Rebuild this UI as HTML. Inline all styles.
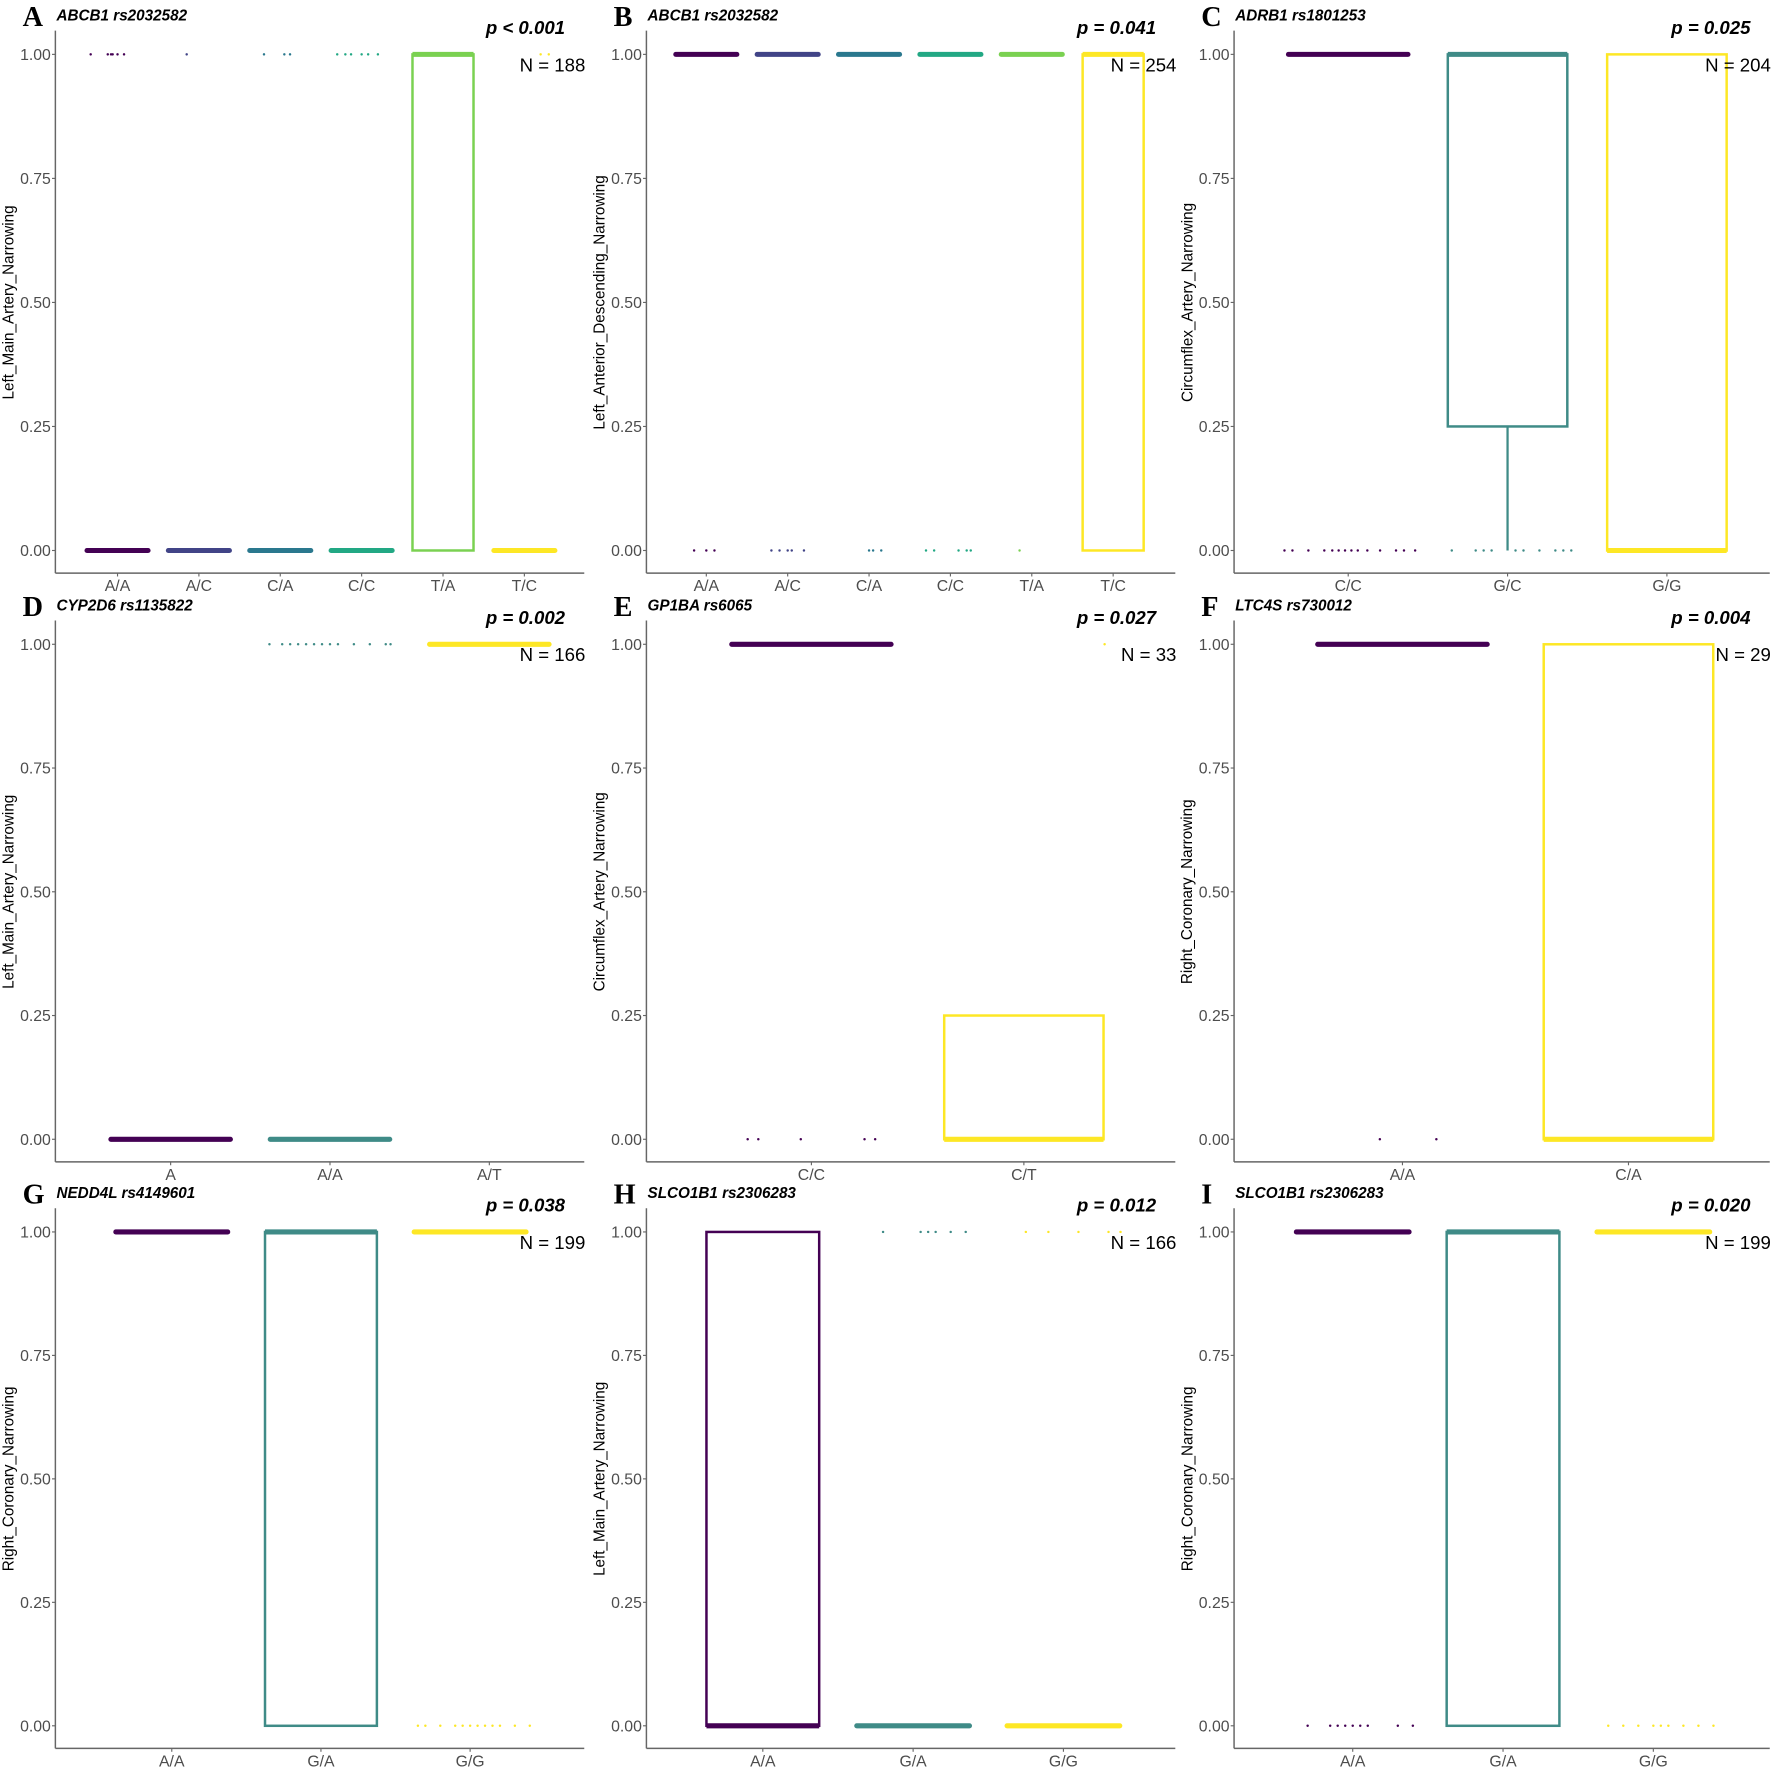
<!DOCTYPE html>
<html><head><meta charset="utf-8"><style>
html,body{margin:0;padding:0;background:#fff}
svg{display:block}
</style></head><body>
<svg id="fig" width="1772" height="1770" viewBox="0 0 1568 1566" xmlns="http://www.w3.org/2000/svg" font-family="Liberation Sans, Arial, sans-serif"></svg>
<script>
// ---- data ----
const panelLetters = ["A","B","C","D","E","F","G","H","I"];
const panelGenes = ["ABCB1 rs2032582","ABCB1 rs2032582","ADRB1 rs1801253","CYP2D6 rs1135822","GP1BA rs6065","LTC4S rs730012","NEDD4L rs4149601","SLCO1B1 rs2306283","SLCO1B1 rs2306283"];
const panelYTitles = ["Left_Main_Artery_Narrowing","Left_Anterior_Descending_Narrowing","Circumflex_Artery_Narrowing","Left_Main_Artery_Narrowing","Circumflex_Artery_Narrowing","Right_Coronary_Narrowing","Right_Coronary_Narrowing","Left_Main_Artery_Narrowing","Right_Coronary_Narrowing"];
const panelP = ["p < 0.001","p = 0.041","p = 0.025","p = 0.002","p = 0.027","p = 0.004","p = 0.038","p = 0.012","p = 0.020"];
const panelN = ["N = 188","N = 254","N = 204","N = 166","N = 33","N = 29","N = 199","N = 166","N = 199"];
const panelCats = [
 ["A/A","A/C","C/A","C/C","T/A","T/C"],
 ["A/A","A/C","C/A","C/C","T/A","T/C"],
 ["C/C","G/C","G/G"],
 ["A","A/A","A/T"],
 ["C/C","C/T"],
 ["A/A","C/A"],
 ["A/A","G/A","G/G"],
 ["A/A","G/A","G/G"],
 ["A/A","G/A","G/G"]
];
// box stats per category: [lowerWhisker, q1, median, q3, upperWhisker]
const panelBoxes = [
 [[0,0,0,0,0],[0,0,0,0,0],[0,0,0,0,0],[0,0,0,0,0],[0,0,1,1,1],[0,0,0,0,0]],
 [[1,1,1,1,1],[1,1,1,1,1],[1,1,1,1,1],[1,1,1,1,1],[1,1,1,1,1],[0,0,1,1,1]],
 [[1,1,1,1,1],[0,0.25,1,1,1],[0,0,0,1,1]],
 [[0,0,0,0,0],[0,0,0,0,0],[1,1,1,1,1]],
 [[1,1,1,1,1],[0,0,0,0.25,0.25]],
 [[1,1,1,1,1],[0,0,0,1,1]],
 [[1,1,1,1,1],[0,0,1,1,1],[1,1,1,1,1]],
 [[0,0,0,1,1],[0,0,0,0,0],[0,0,0,0,0]],
 [[1,1,1,1,1],[0,0,1,1,1],[1,1,1,1,1]]
];
// outlier points: value and jitter offsets (fraction of category spacing)
const panelOutVal = [
 [1,1,1,1,null,1],[0,0,0,0,0,null],[0,0,null],[null,1,null],[0,1],[0,null],[null,null,0],[null,1,1],[0,null,0]
];
const panelOutJit = [
 [[-0.33,-0.12,-0.08,-0.06,0.0,0.08],[-0.15],[-0.2,0.05,0.12],[-0.3,-0.2,-0.13,0.0,0.08,0.2],[],[0.2,0.3]],
 [[-0.15,0.0,0.1],[-0.2,-0.1,0.0,0.05,0.2],[0.0,0.05,0.15],[-0.3,-0.2,0.1,0.2,0.25],[-0.15],[]],
 [[-0.4,-0.35,-0.25,-0.15,-0.1,-0.06,-0.02,0.02,0.06,0.12,0.2,0.3,0.35,0.42],[-0.35,-0.2,-0.15,-0.1,0.05,0.1,0.2,0.3,0.35,0.4],[]],
 [[],[-0.38,-0.3,-0.25,-0.2,-0.15,-0.1,-0.05,0.0,0.05,0.15,0.25,0.35,0.38],[]],
 [[-0.3,-0.25,-0.05,0.25,0.3],[0.38]],
 [[-0.1,0.15],[]],
 [[],[],[-0.35,-0.3,-0.2,-0.1,-0.05,0.0,0.05,0.1,0.15,0.2,0.3,0.4]],
 [[],[-0.2,0.05,0.1,0.15,0.25,0.35],[-0.25,-0.1,0.1,0.3,0.38]],
 [[-0.3,-0.15,-0.1,-0.05,0.0,0.05,0.1,0.3,0.4],[],[-0.3,-0.2,-0.1,0.0,0.05,0.1,0.2,0.3,0.4]]
];
const yTicks = [0,0.25,0.5,0.75,1];
const yTickLabels = ["0.00","0.25","0.50","0.75","1.00"];

// ---- layout ----
const colX0 = [49,572,1092], colX1 = [517,1040,1566];
const rowY1 = [48,570,1090], rowY0 = [487,1008,1527];
const catFirstX = [104,625,1193,151,718,1241,152,675,1197];
const catStep = [72,72,141,141,188,200,132,133,133];
const viridis = {
 6:["#440154","#414487","#2A788E","#22A884","#7AD151","#FDE725"],
 3:["#440154","#3F8B87","#FDE725"],
 2:["#440154","#FDE725"]
};
const NS="http://www.w3.org/2000/svg";
const svg=document.getElementById('fig');
function mk(tag,attrs,parent,txt){const e=document.createElementNS(NS,tag);for(const k in attrs)e.setAttribute(k,attrs[k]);if(txt!==undefined)e.textContent=txt;(parent||svg).appendChild(e);return e;}

for(let p=0;p<9;p++){
 const r=Math.floor(p/3), c=p%3;
 const x0=colX0[c], x1=colX1[c], y1=rowY1[r], y0=rowY0[r];
 const yAxisBottom=y0+20, yAxisTop=y1-21;
 const yS=v=>y0+(y1-y0)*v;
 const cats=panelCats[p], n=cats.length;
 const sp=catStep[p];
 const xS=i=>catFirstX[p]+i*sp;
 const cols=viridis[n];
 const g=mk('g',{});
 
 
 const ya=mk('line',{x1:x0,x2:x0,y1:yAxisTop,y2:yAxisBottom,stroke:'#666','stroke-width':1.3},g);
 
 const xa=mk('line',{x1:x0,x2:x1,y1:yAxisBottom,y2:yAxisBottom,stroke:'#666','stroke-width':1.3},g);
 
 yTicks.forEach((t,i)=>{
  mk('line',{x1:x0-3,x2:x0,y1:yS(t),y2:yS(t),stroke:'#666','stroke-width':1},g);
  const tl=mk('text',{x:x0-4,y:yS(t)+5,'text-anchor':'end','font-size':14,fill:'#4d4d4d'},g,yTickLabels[i]);
  
 });
 cats.forEach((cat,i)=>{
  mk('line',{x1:xS(i),x2:xS(i),y1:yAxisBottom,y2:yAxisBottom+3,stroke:'#666','stroke-width':1},g);
  const xl=mk('text',{x:xS(i),y:yAxisBottom+16,'text-anchor':'middle','font-size':14,fill:'#4d4d4d'},g,cat);
  
 });
 cats.forEach((cat,i)=>{
  const b=panelBoxes[p][i], col=cols[i], cx=xS(i), hw=sp*0.375;
  const bg=mk('g',{},g);
  
  
  if(b[1]===b[3]){
   mk('line',{x1:cx-hw,x2:cx+hw,y1:yS(b[2]),y2:yS(b[2]),stroke:col,'stroke-width':4.5,'stroke-linecap':'round'},bg);
  } else {
   mk('line',{x1:cx,x2:cx,y1:yS(b[0]),y2:yS(b[1]),stroke:col,'stroke-width':2},bg);
   mk('line',{x1:cx,x2:cx,y1:yS(b[3]),y2:yS(b[4]),stroke:col,'stroke-width':2},bg);
   mk('rect',{x:cx-hw,y:yS(b[3]),width:2*hw,height:yS(b[1])-yS(b[3]),fill:'none',stroke:col,'stroke-width':2.2},bg);
   mk('line',{x1:cx-hw,x2:cx+hw,y1:yS(b[2]),y2:yS(b[2]),stroke:col,'stroke-width':4.5},bg);
  }
  const ov=panelOutVal[p][i];
  if(ov!==null){
   panelOutJit[p][i].forEach(j=>{
    const d=mk('circle',{cx:cx+j*sp,cy:yS(ov),r:1.1,fill:col},bg);
    
   });
  }
 });
 const L=mk('text',{x:x0-29,y:y1-25,'font-size':25,'font-weight':'bold',fill:'#000',style:'font-family:"Liberation Serif",serif'},g,panelLetters[p]);
 
 const G=mk('text',{x:x0+1,y:y1-30,'font-size':13.5,'font-weight':'bold','font-style':'italic',fill:'#000'},g,panelGenes[p]);
 
 const P=mk('text',{x:x1-17,y:y1-18,'text-anchor':'end','font-size':16.5,'font-weight':'bold','font-style':'italic',fill:'#000'},g,panelP[p]);
 
 const Nt=mk('text',{x:x1+1,y:y1+15,'text-anchor':'end','font-size':16.5,fill:'#000'},g,panelN[p]);
 
 const ym=(y0+y1)/2, tx=x0-37;
 const Y=mk('text',{x:tx,y:ym,'text-anchor':'middle','font-size':13.5,fill:'#000',transform:`rotate(-90 ${tx} ${ym})`},g,panelYTitles[p]);
 
}
</script>
</body></html>
